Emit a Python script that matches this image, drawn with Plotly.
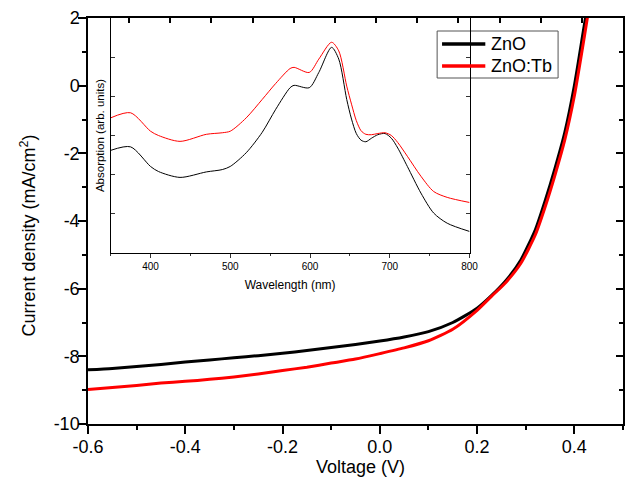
import plotly.graph_objects as go

# J-V characteristics of the devices
series_names = ["ZnO", "ZnO:Tb"]
voltage = [-0.60, -0.55, -0.50, -0.45, -0.40, -0.35, -0.30, -0.25, -0.20, -0.15,
           -0.10, -0.05, 0.00, 0.05, 0.10, 0.15, 0.20, 0.23, 0.26, 0.29,
           0.32, 0.34, 0.36, 0.38, 0.40, 0.42, 0.43]
j_zno = [-8.40, -8.36, -8.30, -8.24, -8.17, -8.11, -8.04, -7.98, -7.91, -7.83,
         -7.74, -7.65, -7.55, -7.43, -7.27, -7.00, -6.58, -6.20, -5.75, -5.15,
         -4.25, -3.40, -2.45, -1.40, 0.00, 1.75, 2.60]
j_znotb = [-8.98, -8.92, -8.86, -8.79, -8.74, -8.68, -8.61, -8.52, -8.42, -8.32,
           -8.20, -8.08, -7.92, -7.75, -7.54, -7.20, -6.64, -6.22, -5.80, -5.25,
           -4.40, -3.58, -2.65, -1.62, -0.30, 1.40, 2.30]

# Absorption spectra (inset)
wavelength = [350, 375, 400, 410, 437, 470, 490, 500, 520, 540, 557, 575, 580,
              599, 611, 627, 636, 646, 652, 658, 664, 670, 677, 685, 694, 702,
              710, 722, 739, 755, 772, 800]
abs_zno = [2.62, 2.71, 2.21, 2.08, 1.93, 2.07, 2.13, 2.21, 2.56, 3.08, 3.67, 4.22,
           4.28, 4.22, 4.61, 5.25, 4.95, 3.92, 3.42, 3.05, 2.88, 2.84, 2.93, 3.02,
           3.05, 2.93, 2.68, 2.21, 1.53, 1.02, 0.76, 0.55]
abs_znotb = [3.45, 3.58, 3.11, 3.00, 2.85, 3.03, 3.07, 3.11, 3.45, 3.92, 4.33, 4.71,
             4.74, 4.61, 4.95, 5.38, 5.16, 4.26, 3.80, 3.38, 3.12, 3.03, 3.02, 3.05,
             3.07, 3.00, 2.82, 2.47, 1.96, 1.57, 1.42, 1.29]

# Tick labels of the main axes
x_tickvals = [-0.6, -0.4, -0.2, 0.0, 0.2, 0.4]
x_ticktext = ["-0.6", "-0.4", "-0.2", "0.0", "0.2", "0.4"]
y_tickvals = [-10, -8, -6, -4, -2, 0, 2]
y_ticktext = ["-10", "-8", "-6", "-4", "-2", "0", "2"]

FONT = "Liberation Sans, Arial, sans-serif"
COLORS = ["#000000", "#ff0000"]

fig = go.Figure()

for name, j, c in zip(series_names, [j_zno, j_znotb], COLORS):
    fig.add_trace(go.Scatter(x=voltage, y=j, mode="lines", name=name, showlegend=False,
                             line=dict(color=c, width=3, shape="spline", smoothing=0.6)))

for name, a, c in zip(series_names, [abs_zno, abs_znotb], COLORS):
    fig.add_trace(go.Scatter(x=wavelength, y=a, mode="lines", name=name,
                             xaxis="x2", yaxis="y2", showlegend=False,
                             line=dict(color=c, width=1, shape="spline", smoothing=0.8)))

# placeholder so the mirrored frame axes are drawn
fig.add_trace(go.Scatter(x=[None], y=[None], xaxis="x3", yaxis="y3",
                         showlegend=False, hoverinfo="skip"))

# Legend box drawn in paper coordinates
def px(xp):
    return (xp - 88) / 544.0

def py(yp):
    return (424 - yp) / 406.0

shapes = [dict(type="rect", xref="paper", yref="paper", layer="below",
               x0=px(443), x1=px(566), y0=py(78), y1=py(31),
               fillcolor="white", line=dict(color="#555", width=1))]
annotations = []
for i, (name, c) in enumerate(zip(series_names, COLORS)):
    yy = py(44 + 22 * i)
    shapes.append(dict(type="line", xref="paper", yref="paper", layer="above",
                       x0=px(448), x1=px(492), y0=yy, y1=yy,
                       line=dict(color=c, width=3.5)))
    annotations.append(dict(text=name, xref="paper", yref="paper", x=px(496), y=yy,
                            xanchor="left", yanchor="middle", showarrow=False,
                            font=dict(size=18, family=FONT, color="#000")))

annotations += [
    dict(text="Current density (mA/cm<sup>2</sup>)", xref="paper", yref="paper",
         x=-0.113, y=0.463, textangle=-90, showarrow=False,
         xanchor="center", yanchor="middle", font=dict(size=18, family=FONT)),
    dict(text="Voltage (V)", xref="paper", yref="paper",
         x=0.510, y=-0.106, showarrow=False,
         xanchor="center", yanchor="middle", font=dict(size=18, family=FONT)),
]

fig.update_layout(
    width=635, height=478,
    margin=dict(l=88, r=3, t=18, b=54),
    paper_bgcolor="white", plot_bgcolor="rgba(0,0,0,0)",
    font=dict(family=FONT, color="#000000"),
    showlegend=False,
    xaxis=dict(range=[-0.6, 0.5], tickvals=x_tickvals, ticktext=x_ticktext,
               ticks="outside", ticklen=8, tickwidth=1.5, tickcolor="#000",
               minor=dict(dtick=0.1, tick0=-0.6, ticks="outside", ticklen=4,
                          tickwidth=1.5, tickcolor="#000"),
               showline=True, linecolor="#000", linewidth=1.5,
               showgrid=False, zeroline=False, ticklabelstandoff=-2,
               tickfont=dict(size=18, family=FONT)),
    yaxis=dict(range=[-10, 2], tickvals=y_tickvals, ticktext=y_ticktext,
               ticks="outside", ticklen=8, tickwidth=1.5, tickcolor="#000",
               minor=dict(dtick=1, ticks="outside", ticklen=4, tickwidth=1.5, tickcolor="#000"),
               showline=True, linecolor="#000", linewidth=1.5,
               showgrid=False, zeroline=False, ticklabelstandoff=-5,
               tickfont=dict(size=18, family=FONT)),
    xaxis3=dict(overlaying="x", side="top", range=[0, 13], dtick=1,
                ticks="inside", ticklen=5, tickwidth=1.5, tickcolor="#000",
                showticklabels=False, showline=True, linecolor="#000", linewidth=1.5,
                showgrid=False, zeroline=False),
    yaxis3=dict(overlaying="y", side="right", range=[-10, 2], dtick=2,
                ticks="inside", ticklen=7, tickwidth=1.5, tickcolor="#000",
                minor=dict(dtick=1, ticks="inside", ticklen=4, tickwidth=1.5, tickcolor="#000"),
                showticklabels=False, showline=True, linecolor="#000", linewidth=1.5,
                showgrid=False, zeroline=False),
    xaxis2=dict(domain=[0.0423, 0.7132], anchor="y2", range=[350, 800], dtick=100,
                ticks="outside", ticklen=4, tickwidth=1, tickcolor="#333",
                minor=dict(dtick=50, ticks="outside", ticklen=2, tickwidth=1, tickcolor="#333"),
                showline=True, linecolor="#000", linewidth=1, mirror=True,
                showgrid=False, zeroline=False,
                tickfont=dict(size=10, family=FONT),
                title=dict(text="Wavelength (nm)", font=dict(size=12, family=FONT), standoff=9)),
    yaxis2=dict(domain=[0.4212, 1.0], anchor="x2", range=[0, 6], dtick=1,
                ticks="inside", ticklen=4, tickwidth=1, tickcolor="#333",
                showticklabels=False, showline=True, linecolor="#000", linewidth=1,
                mirror="ticks", showgrid=False, zeroline=False,
                title=dict(text="Absorption (arb. units)", font=dict(size=11.5, family=FONT),
                           standoff=2)),
    shapes=shapes,
    annotations=annotations,
)

fig.write_html("out.html")
